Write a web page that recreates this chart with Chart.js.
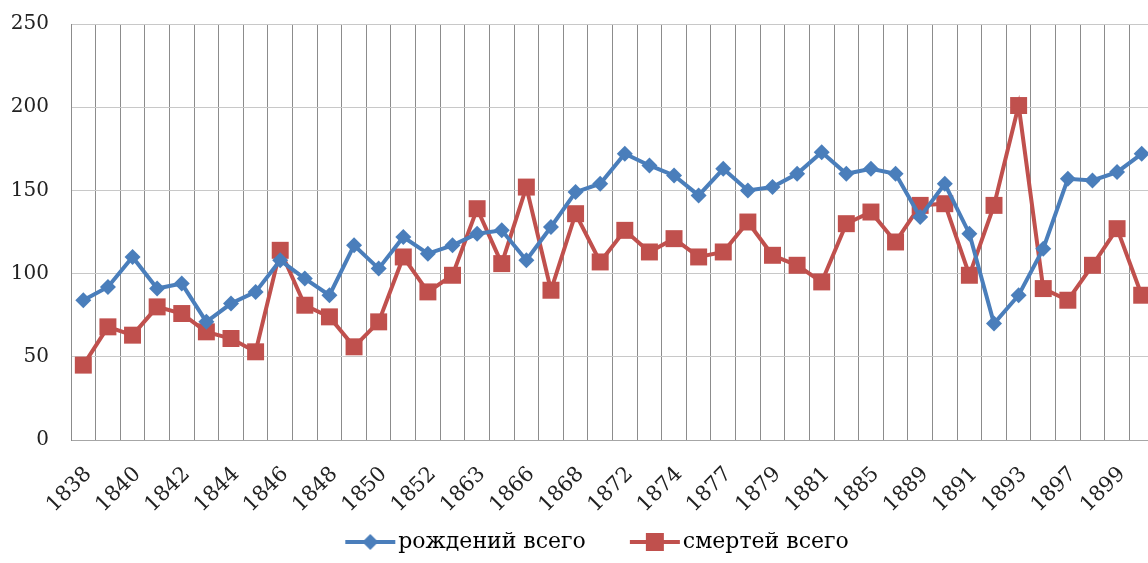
<!DOCTYPE html>
<html>
<head>
<meta charset="utf-8">
<script src="https://cdn.jsdelivr.net/npm/chart.js@4.4.0/dist/chart.umd.min.js"></script>
<style>
  html, body { margin: 0; padding: 0; background: #fff; overflow: hidden; }
  #clip { position: absolute; left: 0; top: 0; width: 1148px; height: 563px; overflow: hidden; }
  #wrap { position: absolute; left: 0; top: 0; width: 1154px; height: 563px; }
</style>
</head>
<body>
<div id="clip"><div id="wrap"><canvas id="myChart"></canvas></div></div>
<script>
var years = [1838, 1839, 1840, 1841, 1842, 1843, 1844, 1845, 1846, 1847, 1848, 1849, 1850, 1851, 1852,
    1862, 1863, 1865, 1866, 1867, 1868, 1870, 1872, 1873, 1874, 1876, 1877, 1878, 1879, 1880, 1881,
    1883, 1885, 1887, 1889, 1890, 1891, 1892, 1893, 1895, 1897, 1898, 1899, 1900];
var births = [84, 92, 110, 91, 94, 71, 82, 89, 108, 97, 87, 117, 103, 122, 112,
    117, 124, 126, 108, 128, 149, 154, 172, 165, 159, 147, 163, 150, 152, 160, 173,
    160, 163, 160, 134, 154, 124, 70, 87, 115, 157, 156, 161, 172];
var deaths = [45, 68, 63, 80, 76, 65, 61, 53, 114, 81, 74, 56, 71, 110, 89,
    99, 139, 106, 152, 90, 136, 107, 126, 113, 121, 110, 113, 131, 111, 105, 95,
    130, 137, 119, 141, 142, 99, 141, 201, 91, 84, 105, 127, 87];
var seriesNames = ["рождений всего", "смертей всего"];
var blue = "#4a7ebb";
var red = "#c0504d";

// legend icon: blank space on the left, then a short line with the marker on it
function legendIcon(color, shape) {
    var c = document.createElement("canvas");
    c.width = 100;
    c.height = 24;
    var g = c.getContext("2d");
    g.strokeStyle = color;
    g.lineWidth = 4;
    g.beginPath();
    g.moveTo(49, 12);
    g.lineTo(99, 12);
    g.stroke();
    g.fillStyle = color;
    g.beginPath();
    if (shape === "diamond") {
        g.moveTo(74, 4); g.lineTo(82, 12); g.lineTo(74, 20); g.lineTo(66, 12);
        g.closePath();
    } else {
        g.rect(65, 3, 18, 18);
    }
    g.fill();
    return c;
}
var icons = [legendIcon(blue, "diamond"), legendIcon(red, "square")];

var serif = "'DejaVu Serif', 'Liberation Serif', serif";

new Chart("myChart", {
    type: "line",
    data: {
        labels: years,
        datasets: [{
            label: seriesNames[0],
            data: births,
            borderColor: blue,
            backgroundColor: blue,
            borderWidth: 4,
            pointStyle: "rectRot",
            pointRadius: 8,
            pointBorderWidth: 0,
            tension: 0
        }, {
            label: seriesNames[1],
            data: deaths,
            borderColor: red,
            backgroundColor: red,
            borderWidth: 4,
            pointStyle: "rect",
            pointRadius: 12,
            pointBorderWidth: 0,
            tension: 0
        }]
    },
    options: {
        responsive: true,
        maintainAspectRatio: false,
        animation: false,
        layout: { autoPadding: false, padding: { top: 24, right: 0, left: 0, bottom: 0 } },
        plugins: {
            tooltip: { enabled: false },
            legend: {
                position: "bottom",
                labels: {
                    usePointStyle: true,
                    pointStyleWidth: 82,
                    padding: 4,
                    color: "#222",
                    font: { family: serif, size: 22 },
                    generateLabels: function (chart) {
                        return chart.data.datasets.map(function (ds, i) {
                            return {
                                text: ds.label,
                                pointStyle: icons[i],
                                fillStyle: ds.borderColor,
                                strokeStyle: ds.borderColor,
                                lineWidth: 0,
                                hidden: false,
                                datasetIndex: i
                            };
                        });
                    }
                }
            }
        },
        scales: {
            x: {
                offset: true,
                grid: { offset: true, color: "#8c8c8c", lineWidth: 1, drawTicks: false },
                border: { color: "#a6a6a6" },
                ticks: {
                    autoSkip: false,
                    maxRotation: 45,
                    minRotation: 45,
                    padding: 22,
                    labelOffset: 5,
                    color: "#222",
                    font: { family: serif, size: 21 },
                    callback: function (val, i) {
                        return i % 2 === 0 ? this.getLabelForValue(val) : "";
                    }
                },
                afterFit: function (scale) {
                    scale.height = 87;
                    scale.paddingLeft = 0;
                    scale.paddingRight = 0;
                }
            },
            y: {
                min: 0,
                max: 250,
                grid: { color: "#c8c8c8", lineWidth: 1, drawTicks: false },
                border: { color: "#8c8c8c" },
                ticks: {
                    stepSize: 50,
                    padding: 22,
                    color: "#222",
                    font: { family: serif, size: 20 }
                },
                afterFit: function (scale) {
                    scale.width = 71;
                    scale.paddingTop = 0;
                    scale.paddingBottom = 0;
                }
            }
        }
    }
});
</script>
</body>
</html>
